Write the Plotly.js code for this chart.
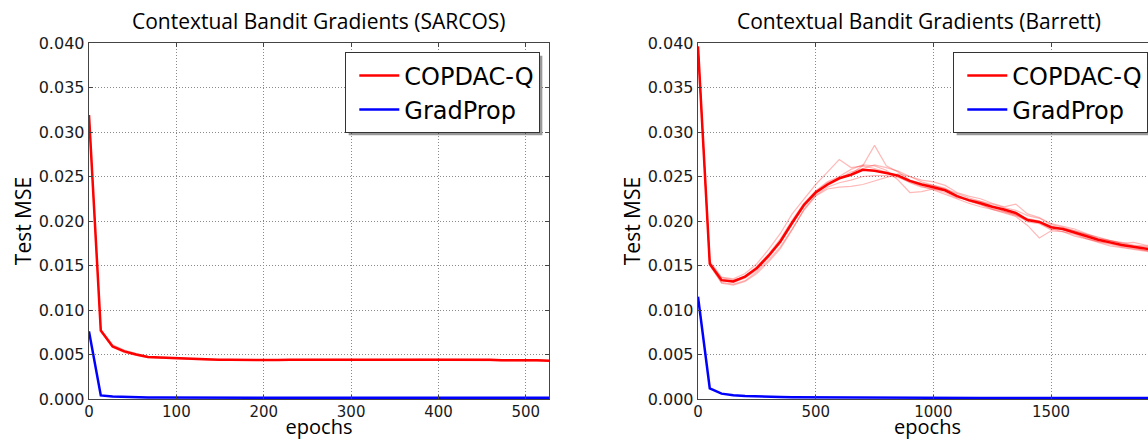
<!DOCTYPE html>
<html>
<head>
<meta charset="utf-8">
<script src="https://cdn.plot.ly/plotly-3.0.1.min.js"></script>
<style>
html,body{margin:0;padding:0;overflow:hidden;background:#fff;}
#chart{width:1180px;height:440px;}
</style>
</head>
<body>
<div id="chart"></div>
<script>
// ---------- SARCOS (left) ----------
const sarcosEpochs = [0,13.5,27,40.5,54,67.5,81,94.5,108,121.5,135,148.5,162,175.5,189,202.5,216,229.5,243,256.5,270,283.5,297,310.5,324,337.5,351,364.5,378,391.5,405,418.5,432,445.5,459,472.5,486,499.5,513,526.5];
const sarcosCopdacMean = [0.0319,0.0077,0.0059,0.00535,0.0050,0.00472,0.00465,0.0046,0.00452,0.00444,0.0044,0.0044,0.0044,0.00438,0.00442,0.00438,0.00437,0.0044,0.0044,0.00445,0.00442,0.00442,0.00443,0.00442,0.0044,0.00443,0.00442,0.00443,0.00444,0.00444,0.0044,0.00445,0.00443,0.0044,0.00442,0.00436,0.00437,0.00436,0.00434,0.0043];
const sarcosCopdacRunA = [0.0319,0.0078,0.0061,0.0055,0.0051,0.0048,0.0047,0.00462,0.00455,0.00447,0.00443,0.00444,0.00442,0.00442,0.00446,0.00442,0.0044,0.00444,0.00445,0.0045,0.00447,0.00445,0.00446,0.00444,0.00443,0.00447,0.00444,0.00446,0.00448,0.00447,0.00444,0.0045,0.00446,0.00443,0.00445,0.00439,0.0044,0.00439,0.00437,0.00433];
const sarcosCopdacRunB = [0.0319,0.0076,0.0058,0.0052,0.0049,0.00466,0.0046,0.00457,0.00449,0.00441,0.00436,0.00436,0.00437,0.00434,0.00437,0.00434,0.00433,0.00437,0.00436,0.00441,0.00437,0.00438,0.0044,0.00439,0.00436,0.0044,0.00439,0.0044,0.00441,0.0044,0.00436,0.00441,0.0044,0.00436,0.00438,0.00433,0.00433,0.00432,0.0043,0.00426];
const sarcosGradprop = [0.0076,0.0004,0.00028,0.00022,0.00019,0.00018,0.00017,0.00016,0.00016,0.00015,0.00015,0.00015,0.00015,0.00014,0.00014,0.00014,0.00014,0.00014,0.00014,0.00014,0.00014,0.00014,0.00014,0.00014,0.00014,0.00014,0.00014,0.00014,0.00014,0.00014,0.00014,0.00014,0.00014,0.00014,0.00014,0.00014,0.00014,0.00014,0.00014,0.00014];

// ---------- Barrett (right) ----------
const barrettEpochs = [0,50,100,150,200,250,300,350,400,450,500,550,600,650,700,750,800,850,900,950,1000,1050,1100,1150,1200,1250,1300,1350,1400,1450,1500,1550,1600,1650,1700,1750,1800,1850,1900,1950];
const barrettCopdacMean = [0.0396,0.0152,0.01335,0.0132,0.01375,0.0147,0.0161,0.0177,0.0198,0.0218,0.0232,0.0241,0.0248,0.0252,0.02575,0.02565,0.0254,0.0251,0.0245,0.0241,0.0238,0.02345,0.0228,0.02235,0.022,0.0216,0.0213,0.0209,0.0201,0.0199,0.0193,0.0191,0.0187,0.0183,0.0179,0.0176,0.0173,0.0171,0.0169,0.0167];
const barrettRunA = [0.0396,0.0155,0.0137,0.0135,0.0141,0.0152,0.0168,0.0186,0.0208,0.0224,0.0241,0.0255,0.0269,0.0260,0.0262,0.0259,0.0255,0.0250,0.0243,0.0238,0.0236,0.0232,0.0226,0.0224,0.0222,0.0217,0.0211,0.0207,0.0199,0.0197,0.0190,0.0192,0.0189,0.0185,0.0180,0.0178,0.0176,0.0173,0.0172,0.0170];
const barrettRunB = [0.0396,0.0151,0.0133,0.0131,0.0136,0.0145,0.0159,0.0175,0.0196,0.0216,0.0231,0.0240,0.0247,0.0253,0.0262,0.0285,0.0262,0.0255,0.0246,0.0242,0.0240,0.0237,0.0229,0.0223,0.0218,0.0214,0.0211,0.0207,0.0203,0.0200,0.0194,0.0190,0.0186,0.0181,0.0177,0.0175,0.0172,0.0170,0.0167,0.0165];
const barrettRunC = [0.0396,0.0150,0.0131,0.0129,0.0133,0.0143,0.0156,0.0171,0.0191,0.0212,0.0228,0.0236,0.0238,0.0239,0.0241,0.0245,0.0249,0.0253,0.0250,0.0244,0.0240,0.0236,0.0231,0.0226,0.0222,0.0219,0.0215,0.0212,0.0206,0.0203,0.0196,0.0193,0.0189,0.0185,0.0182,0.0178,0.0175,0.0172,0.0171,0.0168];
const barrettRunD = [0.0396,0.0153,0.0134,0.0133,0.0138,0.0149,0.0163,0.0180,0.0201,0.0220,0.0234,0.0244,0.0250,0.0258,0.0263,0.0262,0.0257,0.0246,0.0232,0.0233,0.0236,0.0234,0.0229,0.0222,0.0219,0.0213,0.0209,0.0205,0.0195,0.0181,0.0189,0.0188,0.0185,0.0180,0.0176,0.0172,0.0170,0.0168,0.0166,0.0164];
const barrettRunE = [0.0396,0.0152,0.0136,0.0134,0.0137,0.0148,0.0162,0.0178,0.0199,0.0219,0.0233,0.0243,0.0248,0.0255,0.0259,0.0263,0.0260,0.0256,0.0250,0.0246,0.0244,0.0240,0.0232,0.0228,0.0225,0.0220,0.0216,0.0219,0.0208,0.0204,0.0197,0.0194,0.0191,0.0186,0.0181,0.0178,0.0175,0.0176,0.0173,0.0171];
const barrettRunF = [0.0396,0.0151,0.0130,0.0128,0.0132,0.0141,0.0154,0.0169,0.0190,0.0213,0.0229,0.0238,0.0243,0.0246,0.0250,0.0251,0.0251,0.0249,0.0244,0.0239,0.0235,0.0230,0.0225,0.0220,0.0216,0.0213,0.0210,0.0206,0.0201,0.0198,0.0191,0.0188,0.0183,0.0180,0.0177,0.0174,0.0171,0.0169,0.0167,0.0166];
const barrettGradprop = [0.0115,0.0012,0.0006,0.00042,0.00034,0.00028,0.00024,0.00022,0.0002,0.00019,0.00018,0.00017,0.00016,0.00016,0.00015,0.00015,0.00014,0.00014,0.00014,0.00013,0.00013,0.00013,0.00012,0.00012,0.00012,0.00012,0.00011,0.00011,0.00011,0.00011,0.0001,0.0001,0.0001,0.0001,0.0001,0.0001,0.0001,0.0001,0.0001,0.0001];

const titles = ["Contextual Bandit Gradients (SARCOS)", "Contextual Bandit Gradients (Barrett)"];
const seriesNames = ["COPDAC-Q", "GradProp"];
const yTicks = [0,0.005,0.01,0.015,0.02,0.025,0.03,0.035,0.04];

// ---------- geometry (px) ----------
const W = 1180, H = 440;
const P = {l1: 89, r1: 549, l2: 698, r2: 1157, top: 43, bottom: 399};
const px = v => v / W, py = v => (H - v) / H;

const RED = '#ff0000', BLUE = '#0000ff', FAINT = 'rgba(255,0,0,0.28)';

function faint(x, y, xa, ya) {
  return {x, y, xaxis: xa, yaxis: ya, type: 'scatter', mode: 'lines',
    line: {color: FAINT, width: 1.2}, showlegend: false, hoverinfo: 'skip'};
}

const traces = [
  faint(sarcosEpochs, sarcosCopdacRunA, 'x', 'y'),
  faint(sarcosEpochs, sarcosCopdacRunB, 'x', 'y'),
  {x: sarcosEpochs, y: sarcosCopdacMean, xaxis: 'x', yaxis: 'y', type: 'scatter', mode: 'lines',
   name: seriesNames[0], line: {color: RED, width: 2.5}, legend: 'legend'},
  {x: sarcosEpochs, y: sarcosGradprop, xaxis: 'x', yaxis: 'y', type: 'scatter', mode: 'lines',
   name: seriesNames[1], line: {color: BLUE, width: 2.5}, legend: 'legend'},

  faint(barrettEpochs, barrettRunA, 'x2', 'y2'),
  faint(barrettEpochs, barrettRunB, 'x2', 'y2'),
  faint(barrettEpochs, barrettRunC, 'x2', 'y2'),
  faint(barrettEpochs, barrettRunD, 'x2', 'y2'),
  faint(barrettEpochs, barrettRunE, 'x2', 'y2'),
  faint(barrettEpochs, barrettRunF, 'x2', 'y2'),
  {x: barrettEpochs, y: barrettCopdacMean, xaxis: 'x2', yaxis: 'y2', type: 'scatter', mode: 'lines',
   name: seriesNames[0], line: {color: RED, width: 2.5}, legend: 'legend2'},
  {x: barrettEpochs, y: barrettGradprop, xaxis: 'x2', yaxis: 'y2', type: 'scatter', mode: 'lines',
   name: seriesNames[1], line: {color: BLUE, width: 2.5}, legend: 'legend2'}
];

const yTickFont = {family: 'DejaVu Sans', size: 16, color: '#1a1a1a'};
const xTickFont = {family: 'DejaVu Sans', size: 15, color: '#1a1a1a'};
const labelFont = {family: 'Open Sans', size: 21, color: '#000'};
const xLabelFont = {family: 'Open Sans', size: 20, color: '#000'};

function xAxis(domain, range, dtick, anchor) {
  return {domain, range, dtick, anchor, tick0: 0,
    showgrid: true, gridcolor: '#8a8a8a', griddash: '1px,2px', gridwidth: 1,
    zeroline: false, showline: true, linecolor: '#444', linewidth: 1.3, mirror: 'ticks',
    ticks: 'inside', ticklen: 4, tickcolor: '#444',
    tickfont: xTickFont, ticklabelstandoff: -1, automargin: false,
    title: {text: 'epochs', font: xLabelFont}};
}
function yAxis(domain, anchor) {
  return {domain, range: [0, 0.04], tickvals: yTicks, tickformat: '.3f', anchor,
    showgrid: true, gridcolor: '#8a8a8a', griddash: '1px,2px', gridwidth: 1,
    zeroline: false, showline: true, linecolor: '#444', linewidth: 1.3, mirror: 'ticks',
    ticks: 'inside', ticklen: 4, tickcolor: '#444',
    tickfont: yTickFont, automargin: false,
    title: {text: 'Test MSE', font: labelFont}};
}

const legendBase = {
  font: {family: 'DejaVu Sans', size: 24, color: '#000'},
  bgcolor: '#ffffff', bordercolor: '#333', borderwidth: 1.3,
  xanchor: 'right', yanchor: 'top', xref: 'paper', yref: 'paper',
  itemwidth: 40, indentation: 8, tracegroupgap: 0
};

const layout = {
  width: W, height: H,
  margin: {l: 0, r: 0, t: 0, b: 0},
  paper_bgcolor: '#fff', plot_bgcolor: '#fff',
  xaxis: xAxis([px(P.l1), px(P.r1)], [0, 526.5], 100, 'y'),
  yaxis: yAxis([py(P.bottom), py(P.top)], 'x'),
  xaxis2: xAxis([px(P.l2), px(P.r2)], [0, 1950], 500, 'y2'),
  yaxis2: yAxis([py(P.bottom), py(P.top)], 'x2'),
  legend: Object.assign({}, legendBase, {x: px(540), y: py(52)}),
  legend2: Object.assign({}, legendBase, {x: px(1148), y: py(52)}),
  annotations: [
    {text: titles[0], x: px(319), y: py(21), xref: 'paper', yref: 'paper', xanchor: 'center', yanchor: 'middle',
     showarrow: false, font: labelFont},
    {text: titles[1], x: px(919), y: py(21), xref: 'paper', yref: 'paper', xanchor: 'center', yanchor: 'middle',
     showarrow: false, font: labelFont}
  ],
  showlegend: true
};

const gd = document.getElementById('chart');
Plotly.newPlot(gd, traces, layout, {displayModeBar: false, staticPlot: true}).then(() => {
  // drop shadow behind each legend box (offset down-right, like the original)
  const off = 3;
  const root = gd.getBoundingClientRect();
  const shapes = [];
  ['legend', 'legend2'].forEach(cls => {
    const bg = gd.querySelector('g.' + cls + ' rect.bg');
    if (!bg) return;
    const r = bg.getBoundingClientRect();
    const x0 = r.left - root.left + off, x1 = r.right - root.left + off;
    const y0 = r.top - root.top + off, y1 = r.bottom - root.top + off;
    shapes.push({type: 'rect', xref: 'paper', yref: 'paper', layer: 'above', line: {width: 0},
      fillcolor: 'rgba(0,0,0,0.4)', x0: px(x0), x1: px(x1), y0: py(y1), y1: py(y0)});
  });
  return Plotly.relayout(gd, {shapes});
});
</script>
</body>
</html>
